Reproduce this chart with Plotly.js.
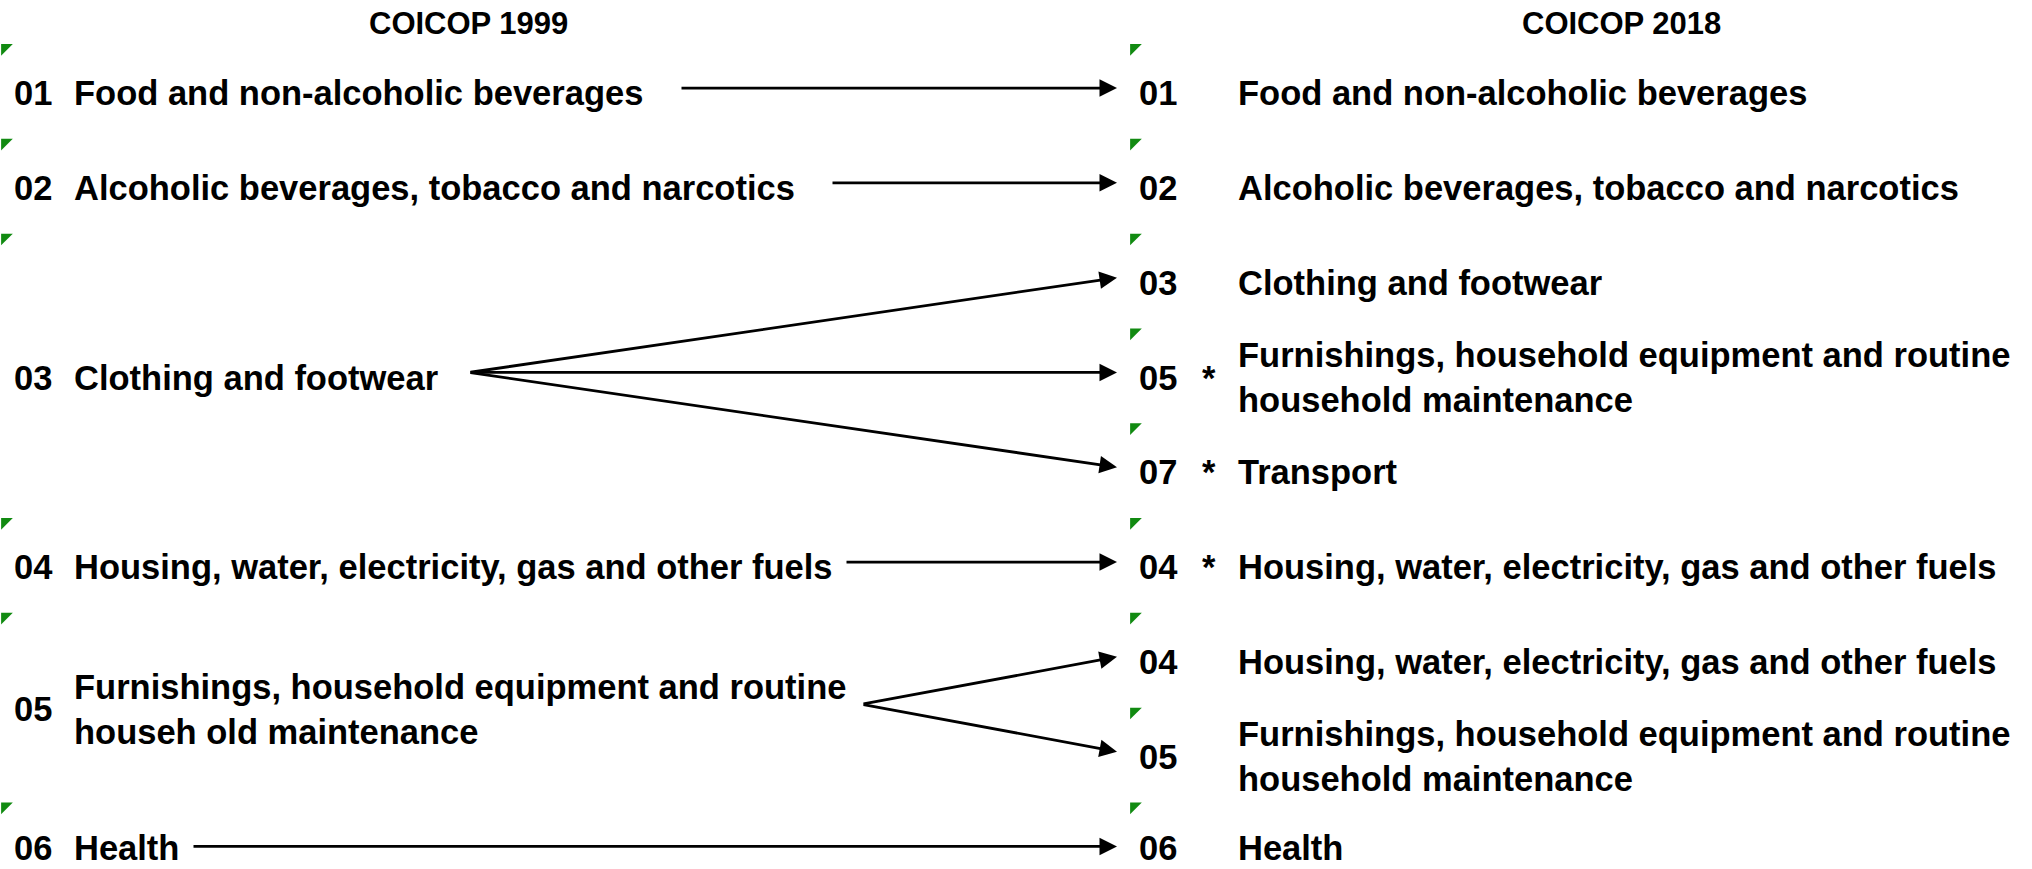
<!DOCTYPE html>
<html>
<head>
<meta charset="utf-8">
<script src="https://cdn.plot.ly/plotly-3.0.1.min.js"></script>
<style>
  html, body { margin: 0; padding: 0; background: #ffffff; }
  #chart { width: 2032px; height: 869px; }
</style>
</head>
<body>
<div id="chart"></div>
<script>
// ---------------- data ----------------
const titles = ['COICOP 1999', 'COICOP 2018'];

const leftCodes  = ['01', '02', '03', '04', '05', '06'];
const leftLabels = [
  'Food and non-alcoholic beverages',
  'Alcoholic beverages, tobacco and narcotics',
  'Clothing and footwear',
  'Housing, water, electricity, gas and other fuels',
  'Furnishings, household equipment and routine<br>househ old maintenance',
  'Health'
];
const leftRowStart = [0, 1, 2, 5, 6, 8];
const leftRowEnd   = [0, 1, 4, 5, 7, 8];

const rightCodes  = ['01', '02', '03', '05', '07', '04', '04', '05', '06'];
const rightStars  = ['', '', '', '*', '*', '*', '', '', ''];
const rightLabels = [
  'Food and non-alcoholic beverages',
  'Alcoholic beverages, tobacco and narcotics',
  'Clothing and footwear',
  'Furnishings, household equipment and routine<br>household maintenance',
  'Transport',
  'Housing, water, electricity, gas and other fuels',
  'Housing, water, electricity, gas and other fuels',
  'Furnishings, household equipment and routine<br>household maintenance',
  'Health'
];
const rightRows = [0, 1, 2, 3, 4, 5, 6, 7, 8];

// links: left item index -> right item index
const linkFrom = [0, 1, 2, 2, 2, 3, 4, 4, 5];
const linkTo   = [0, 1, 2, 3, 4, 5, 6, 7, 8];

// ---------------- layout / style constants ----------------
const FONT = 'Liberation Sans, Arial, Helvetica, sans-serif';
const S = {
  fontSize: 34.5,
  titleSize: 31,
  leftCodeX: 12,
  leftLabelX: 72,
  rightCodeX: 1137,
  starX: 1209,
  rightLabelX: 1236,
  markerLeftX: 5,
  markerRightX: 1134,
  markerOffset: -0.478,
  titleRow: -0.74,
  titleX: [468, 1621],
  arrowTipX: 1117,
  arrowDy: -0.055,
  lastRowNudge: -0.04,   // keep the bottom row's text box inside the page
  // tail x of arrows for each left item (just right of its label)
  arrowTailX: [680, 831, 469, 845, 862, 192],
  green: '#118a11'
};

// ---------------- build ----------------
const ann = [];
const lastRow = rightRows[rightRows.length - 1];
function rowY(r) { return r >= lastRow ? r + S.lastRowNudge : r; }
function txt(x, y, text, opts) {
  ann.push(Object.assign({
    x: x, y: rowY(y), xref: 'x', yref: 'y', text: text, showarrow: false,
    xanchor: 'left', yanchor: 'middle', align: 'left',
    font: { family: FONT, size: S.fontSize, color: '#000000', weight: 700 }
  }, opts || {}));
}

titles.forEach((t, i) => txt(S.titleX[i], S.titleRow, t, {
  xanchor: 'center', font: { family: FONT, size: S.titleSize, color: '#000', weight: 700 }
}));

const leftCenter = leftRowStart.map((s, i) => (s + leftRowEnd[i]) / 2);

leftCodes.forEach((c, i) => {
  txt(S.leftCodeX, leftCenter[i], c);
  txt(S.leftLabelX, leftCenter[i], leftLabels[i]);
});

rightCodes.forEach((c, i) => {
  txt(S.rightCodeX, rightRows[i], c);
  if (rightStars[i]) txt(S.starX, rightRows[i], rightStars[i], { xanchor: 'center' });
  txt(S.rightLabelX, rightRows[i], rightLabels[i]);
});

linkFrom.forEach((f, j) => {
  const t = linkTo[j];
  ann.push({
    x: S.arrowTipX, y: rightRows[t] + S.arrowDy, xref: 'x', yref: 'y',
    ax: S.arrowTailX[f], ay: leftCenter[f] + S.arrowDy, axref: 'x', ayref: 'y',
    text: '', showarrow: true, arrowhead: 2, arrowsize: 1.25, arrowwidth: 2.8,
    arrowcolor: '#000000', standoff: 0, startstandoff: 0
  });
});

const traces = [
  {
    type: 'scatter', mode: 'markers', hoverinfo: 'skip', showlegend: false,
    x: leftRowStart.map(() => S.markerLeftX),
    y: leftRowStart.map(r => r + S.markerOffset),
    marker: { symbol: 'triangle-nw', size: 13, color: S.green, line: { width: 0 } }
  },
  {
    type: 'scatter', mode: 'markers', hoverinfo: 'skip', showlegend: false,
    x: rightRows.map(() => S.markerRightX),
    y: rightRows.map(r => r + S.markerOffset),
    marker: { symbol: 'triangle-nw', size: 13, color: S.green, line: { width: 0 } }
  }
];

const layout = {
  width: 2032, height: 869,
  margin: { l: 0, r: 0, t: 0, b: 0, pad: 0 },
  paper_bgcolor: '#ffffff', plot_bgcolor: '#ffffff',
  showlegend: false,
  xaxis: { range: [0, 2032], visible: false, fixedrange: true },
  yaxis: { range: [8.183, -0.984], visible: false, fixedrange: true },
  annotations: ann
};

Plotly.newPlot('chart', traces, layout, { displayModeBar: false, staticPlot: true });
</script>
</body>
</html>
